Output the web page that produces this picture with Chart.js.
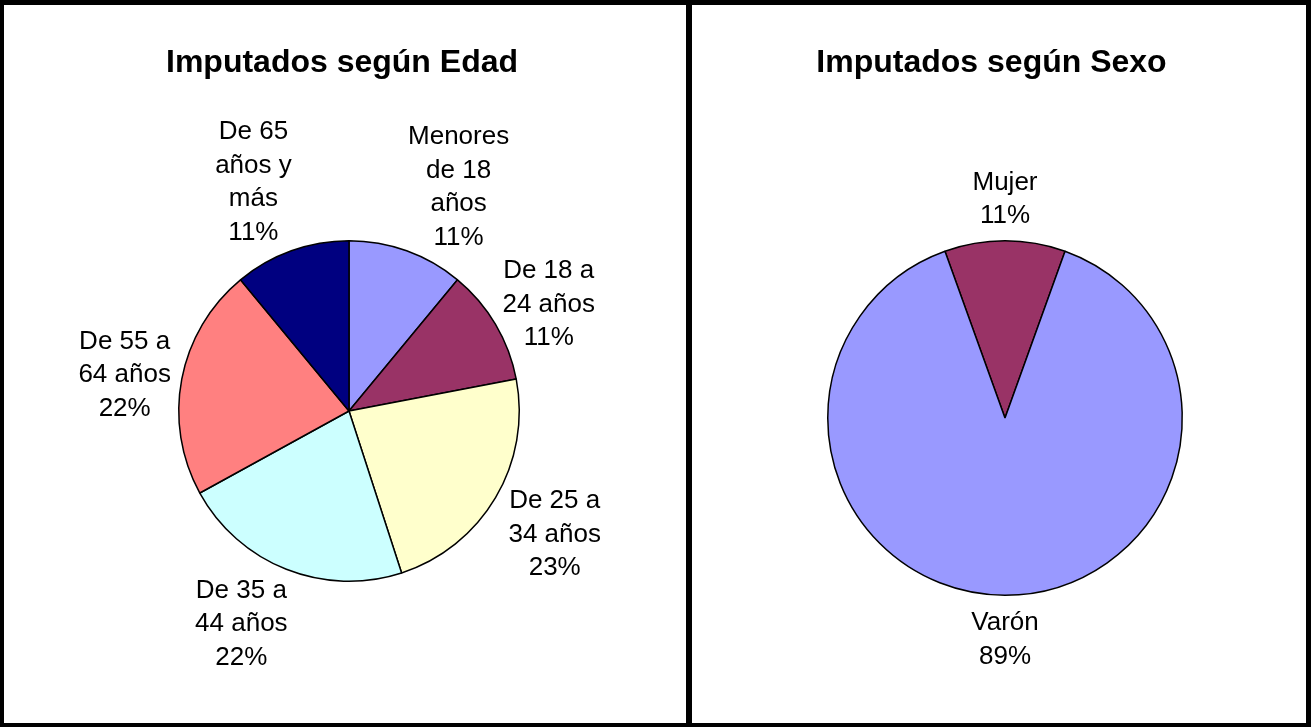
<!DOCTYPE html>
<html>
<head>
<meta charset="utf-8">
<script src="https://cdn.jsdelivr.net/npm/chart.js@4.4.1/dist/chart.umd.min.js"></script>
<style>
  html, body { margin: 0; padding: 0; background: #000; }
  body { width: 1311px; height: 727px; position: relative; overflow: hidden; }
  .panel { position: absolute; background: #fff; }
  #p1 { left: 4px; top: 5px; width: 682px; height: 718px; }
  #p2 { left: 692px; top: 5px; width: 614px; height: 718px; }
  canvas { display: block; }
</style>
</head>
<body>
<div class="panel" id="p1"><canvas id="c1" width="682" height="718"></canvas></div>
<div class="panel" id="p2"><canvas id="c2" width="614" height="718"></canvas></div>
<script>
// ---- Data ----
const edadTitle = 'Imputados según Edad';
const edadLabels = [
  ['Menores', 'de 18', 'años'],
  ['De 18 a', '24 años'],
  ['De 25 a', '34 años'],
  ['De 35 a', '44 años'],
  ['De 55 a', '64 años'],
  ['De 65', 'años y', 'más']
];
const edadValues = [11, 11, 23, 22, 22, 11];
const edadColors = ['#9999FF', '#993366', '#FFFFCC', '#CCFFFF', '#FF8080', '#000080'];

const sexoTitle = 'Imputados según Sexo';
const sexoLabels = [['Mujer'], ['Varón']];
const sexoValues = [11, 89];
const sexoColors = ['#993366', '#9999FF'];

// ---- Label layout tweaks (pixel nudges relative to the computed label spot) ----
const edadLabelNudge = [[12, 11], [0, 14], [6, 3], [-7, -3], [-3, 7], [-7, 6]];
const sexoLabelNudge = [[0, 0], [0, 3]];

// ---- Rendering ----
const FONT = '"Liberation Sans", Arial, sans-serif';
const LABEL_SIZE = 26;
const LINE_H = 33.5;
const GAP = 8;

function labelPlugin(title, titleX, titleBaseline, nudge) {
  return {
    id: 'pieLabels',
    afterDatasetsDraw(chart) {
      const ctx = chart.ctx;
      ctx.save();
      // title
      ctx.fillStyle = '#000';
      ctx.font = 'bold 32px ' + FONT;
      ctx.textAlign = 'center';
      ctx.textBaseline = 'alphabetic';
      ctx.fillText(title, titleX, titleBaseline);
      // slice labels
      const meta = chart.getDatasetMeta(0);
      const data = chart.data.datasets[0].data;
      const sum = data.reduce((a, b) => a + b, 0);
      ctx.font = LABEL_SIZE + 'px ' + FONT;
      ctx.textBaseline = 'middle';
      meta.data.forEach((arc, i) => {
        const p = arc.getProps(['x', 'y', 'startAngle', 'endAngle', 'outerRadius'], true);
        const mid = (p.startAngle + p.endAngle) / 2;
        const ux = Math.cos(mid), uy = Math.sin(mid);
        const lines = chart.data.labels[i].concat([Math.round(data[i] / sum * 100) + '%']);
        const w = Math.max(...lines.map(l => ctx.measureText(l).width));
        const h = lines.length * LINE_H;
        const ax = p.x + ux * (p.outerRadius + GAP);
        const ay = p.y + uy * (p.outerRadius + GAP);
        let ox, oy;
        if (Math.abs(uy) >= Math.abs(ux)) {
          ox = Math.sign(ux) * Math.pow(Math.abs(ux / uy), 0.3) * w / 2;
          oy = Math.sign(uy) * h / 2;
        } else {
          ox = Math.sign(ux) * w / 2;
          oy = (uy / Math.abs(ux)) * h / 2;
        }
        const n = nudge[i] || [0, 0];
        const cx = ax + ox + n[0], cy = ay + oy + n[1];
        lines.forEach((l, j) => {
          ctx.fillText(l, cx, cy - h / 2 + LINE_H * (j + 0.5));
        });
      });
      ctx.restore();
    }
  };
}

function makePie(id, labels, values, colors, rotation, padding, title, titleX, titleBaseline, nudge) {
  return new Chart(document.getElementById(id), {
    type: 'pie',
    data: {
      labels: labels,
      datasets: [{
        data: values,
        backgroundColor: colors,
        borderColor: '#000',
        borderWidth: 1.5,
        hoverOffset: 0
      }]
    },
    options: {
      responsive: false,
      animation: false,
      rotation: rotation,
      layout: { padding: padding },
      plugins: {
        legend: { display: false },
        tooltip: { enabled: false },
        title: { display: false }
      }
    },
    plugins: [labelPlugin(title, titleX, titleBaseline, nudge)]
  });
}

makePie('c1', edadLabels, edadValues, edadColors, 0,
  { left: 174, right: 166, top: 235, bottom: 141 }, edadTitle, 338, 67, edadLabelNudge);

const sexoSum = sexoValues.reduce((a, b) => a + b, 0);
makePie('c2', sexoLabels, sexoValues, sexoColors, -(sexoValues[0] / sexoSum) * 180,
  { left: 135, right: 123, top: 235, bottom: 127 }, sexoTitle, 299.5, 67, sexoLabelNudge);
</script>
</body>
</html>
